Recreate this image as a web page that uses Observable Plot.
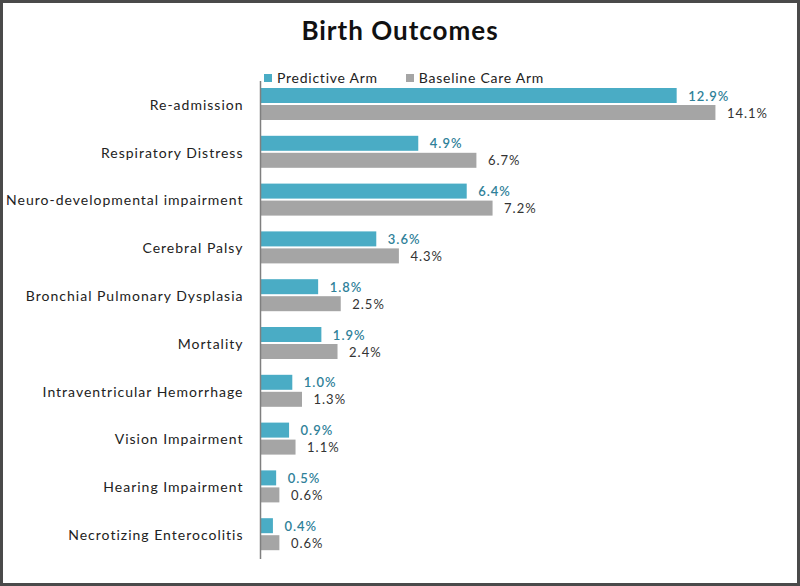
<!DOCTYPE html>
<html>
<head>
<meta charset="utf-8">
<script src="https://cdn.jsdelivr.net/npm/d3@7"></script>
<script src="https://cdn.jsdelivr.net/npm/@observablehq/plot@0.6"></script>
<style>
  html, body { margin: 0; padding: 0; background: #fff; }
  #wrap { position: relative; width: 800px; height: 586px; overflow: hidden; background: #fff; font-family: Lato, sans-serif; }
  #frame { position: absolute; left: 0; top: 0; width: 800px; height: 586px; box-sizing: border-box; border: 3px solid #4a4a4a; pointer-events: none; }
  #title { position: absolute; left: 0; width: 800px; top: 14px; text-align: center; font-size: 26px; font-weight: bold; color: #111; letter-spacing: 1px; }
  #legend { position: absolute; left: 264px; top: 69px; font-size: 14px; letter-spacing: 0.75px; color: #222; display: flex; align-items: center; line-height: 17px; }
  #legend .sw { display: inline-block; width: 8px; height: 8px; margin-right: 5px; }
  #legend .item { display: flex; align-items: center; margin-right: 28px; }
  #chart { position: absolute; left: 0; top: 81px; }
</style>
</head>
<body>
<div id="wrap">
  <div id="title">Birth Outcomes</div>
  <div id="legend"></div>
  <div id="chart"></div>
  <div id="frame"></div>
</div>
<script>
const categories = [
  "Re-admission",
  "Respiratory Distress",
  "Neuro-developmental impairment",
  "Cerebral Palsy",
  "Bronchial Pulmonary Dysplasia",
  "Mortality",
  "Intraventricular Hemorrhage",
  "Vision Impairment",
  "Hearing Impairment",
  "Necrotizing Enterocolitis"
];
const predictive = [12.9, 4.9, 6.4, 3.6, 1.8, 1.9, 1.0, 0.9, 0.5, 0.4];
const baseline = [14.1, 6.7, 7.2, 4.3, 2.5, 2.4, 1.3, 1.1, 0.6, 0.6];
const seriesNames = ["Predictive Arm", "Baseline Care Arm"];
const colors = ["#4aacc5", "#a5a5a5"];
const labelColors = ["#2f8199", "#333333"];

const predData = categories.map((c, i) => ({cat: c, v: predictive[i]}));
const baseData = categories.map((c, i) => ({cat: c, v: baseline[i]}));

// legend
const legend = document.getElementById("legend");
seriesNames.forEach((s, i) => {
  const it = document.createElement("span");
  it.className = "item";
  const sw = document.createElement("span");
  sw.className = "sw";
  sw.style.background = colors[i];
  it.appendChild(sw);
  it.appendChild(document.createTextNode(s));
  legend.appendChild(it);
});

const H = 478;
const band = H / categories.length;
const fmt = d => d.v.toFixed(1) + "%";

const chart = Plot.plot({
  width: 800,
  height: H,
  marginTop: 0,
  marginBottom: 0,
  marginLeft: 260,
  marginRight: 800 - 260 - 16 * 32.3,
  style: {fontFamily: "Lato, sans-serif", fontSize: "14px", color: "#222", background: "transparent", letterSpacing: "1px"},
  x: {domain: [0, 16], axis: null},
  y: {domain: categories, padding: 0, round: false, label: null, tickSize: 0, tickPadding: 17},
  marks: [
    Plot.barX(predData, {x: "v", y: "cat", fill: colors[0], insetTop: 7, insetBottom: band - 22}),
    Plot.barX(baseData, {x: "v", y: "cat", fill: colors[1], insetTop: 24, insetBottom: band - 39}),
    Plot.text(predData, {x: "v", y: "cat", text: fmt, dx: 11, dy: -9, textAnchor: "start", fill: labelColors[0], fontSize: 13, fontWeight: 600, letterSpacing: "0.8px"}),
    Plot.text(baseData, {x: "v", y: "cat", text: fmt, dx: 11, dy: 8, textAnchor: "start", fill: labelColors[1], fontSize: 13, letterSpacing: "0.8px"}),
    Plot.ruleX([0], {stroke: "#7f7f7f", strokeWidth: 1.5})
  ]
});
document.getElementById("chart").appendChild(chart);
</script>
</body>
</html>
